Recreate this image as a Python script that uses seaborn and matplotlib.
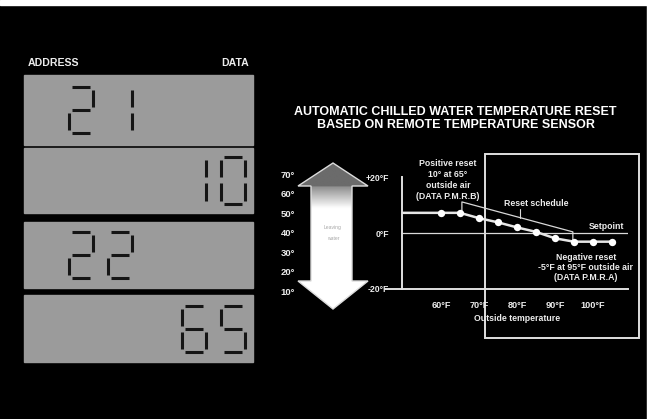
import numpy as np
import pandas as pd
import matplotlib
matplotlib.use("Agg")
import matplotlib.pyplot as plt
import seaborn as sns
from matplotlib.patches import Rectangle, Polygon

# ---- data ----------------------------------------------------------------
panel_kinds = ["address", "data", "address", "data"]
panel_values = ["21", "10", "22", "65"]

outdoor_temp = [50, 60, 65, 70, 75, 80, 85, 90, 95, 100, 105]
reset_offset = [7.2, 7.2, 7.2, 5.3, 3.8, 2.0, 0.4, -1.9, -3.1, -3.1, -3.1]

x_ticks = [60, 70, 80, 90, 100]
x_tick_labels = ["60°F", "70°F", "80°F", "90°F", "100°F"]
y_ticks = [20, 0, -20]
y_tick_labels = ["+20°F", "0°F", "-20°F"]
water_scale = ["70°", "60°", "50°", "40°", "30°", "20°", "10°"]

sns.set_theme(style="dark")
plt.rcParams["font.family"] = ["Liberation Sans", "DejaVu Sans"]

W, H = 653, 419
fig = plt.figure(figsize=(W / 100, H / 100), dpi=100, facecolor="black")

# pixel-space canvas for the panel artwork
bg = fig.add_axes([0, 0, 1, 1])
bg.set_xlim(0, W)
bg.set_ylim(H, 0)
bg.axis("off")
bg.set_facecolor("black")
bg.add_patch(Rectangle((0, 0), W, H, color="black", zorder=0))
# paper margin
bg.add_patch(Rectangle((0, 0), W, 5, color="white", zorder=1))
bg.add_patch(Rectangle((647, 0), 6, H, color="white", zorder=1))

TXT = "#ececec"

# ---- LCD display column ---------------------------------------------------
bg.text(28, 63, "ADDRESS", color=TXT, fontsize=7.6, fontweight="bold", va="center", ha="left")
bg.text(249, 63, "DATA", color=TXT, fontsize=7.6, fontweight="bold", va="center", ha="right")

panels = [(75, 145), (148, 213), (222, 288), (295, 362)]
LCD = "#9b9b9b"

SEGS = {
    "0": "abcdef", "1": "bc", "2": "abged", "3": "abgcd", "4": "fgbc",
    "5": "afgcd", "6": "afgedc", "7": "abc", "8": "abcdefg", "9": "abcdfg",
}


def draw_digit(ch, x0, yc, w=24, h=46):
    top, mid, bot = yc - h / 2, yc, yc + h / 2
    g = 3
    coords = {
        "a": ((x0 + g, top), (x0 + w - g, top)),
        "b": ((x0 + w, top + g), (x0 + w, mid - g)),
        "c": ((x0 + w, mid + g), (x0 + w, bot - g)),
        "d": ((x0 + g, bot), (x0 + w - g, bot)),
        "e": ((x0, mid + g), (x0, bot - g)),
        "f": ((x0, top + g), (x0, mid - g)),
        "g": ((x0 + g, mid), (x0 + w - g, mid)),
    }
    for s in SEGS[ch]:
        (xa, ya), (xb, yb) = coords[s]
        bg.plot([xa, xb], [ya, yb], color="#151515", lw=2.2,
                solid_capstyle="butt", zorder=4)


for (y0, y1), kind, val in zip(panels, panel_kinds, panel_values):
    bg.add_patch(Rectangle((24, y0), 229, y1 - y0, color=LCD, zorder=2))
    yc = (y0 + y1) / 2
    starts = [69, 108] if kind == "address" else [182, 221]
    for ch, xs in zip(val, starts):
        draw_digit(ch, xs, yc)

# ---- title ------------------------------------------------------------------
bg.text(455, 112, "AUTOMATIC CHILLED WATER TEMPERATURE RESET", color="white",
        fontsize=9.0, fontweight="bold", ha="center", va="center")
bg.text(456, 125, "BASED ON REMOTE TEMPERATURE SENSOR", color="white",
        fontsize=9.0, fontweight="bold", ha="center", va="center")

# ---- water temperature arrow ------------------------------------------------
arrow_pts = [(333, 163), (368, 186), (352, 186), (352, 281), (368, 281),
             (333, 309), (298, 281), (311, 281), (311, 186), (298, 186)]
arrow = Polygon(arrow_pts, closed=True, facecolor="none", edgecolor="#dcdcdc",
                lw=1.0, zorder=6)
bg.add_patch(arrow)
rows = np.linspace(163, 309, 200)
shade = np.where(rows < 186, 0.42,
                 np.clip(0.55 + (rows - 186) / 22 * 0.45, 0.55, 1.0))
grad = np.tile(shade[:, None], (1, 10))
im = bg.imshow(grad, extent=(298, 368, 309, 163), origin="upper", cmap="gray",
               vmin=0, vmax=1, aspect="auto", zorder=5, interpolation="bilinear")
im.set_clip_path(arrow)
bg.text(333, 227, "Leaving", color="#a8a8a8", fontsize=3.6, ha="center", va="center", zorder=7)
bg.text(333, 238, "water", color="#a8a8a8", fontsize=3.6, ha="center", va="center", zorder=7)
for lab, yy in zip(water_scale, np.linspace(175, 292, len(water_scale))):
    bg.text(288, yy, lab, color=TXT, fontsize=6.8, fontweight="bold",
            ha="center", va="center")

# ---- setpoint window -------------------------------------------------------
bg.add_patch(Rectangle((485, 154), 154, 184, fill=False, edgecolor="#e0e0e0",
                       lw=1.4, zorder=3))

# ---- reset chart -----------------------------------------------------------
px_left, px_right, px_top, px_bot = 385, 628, 177, 289
ax = fig.add_axes([px_left / W, (H - px_bot) / H,
                   (px_right - px_left) / W, (px_bot - px_top) / H])
ax.set_facecolor("none")
ax.patch.set_alpha(0)
ax.grid(False)
x_per_px = 10 / 38.0
ax.set_xlim(60 - (441 - px_left) * x_per_px, 100 + (px_right - 593) * x_per_px)
ax.set_ylim(-20, 20)
y_axis_x = 60 - (441 - 402) * x_per_px

df = pd.DataFrame({"outdoor": outdoor_temp, "offset": reset_offset})
sns.lineplot(data=df, x="outdoor", y="offset", ax=ax, color="#e6e6e6",
             lw=1.8, zorder=4)
sns.scatterplot(data=df.iloc[1:], x="outdoor", y="offset", ax=ax, color="white",
                s=28, edgecolor="white", linewidth=0, zorder=5)

ax.axhline(0, xmin=(402 - px_left) / (px_right - px_left), xmax=1,
           color="#dadada", lw=0.9, zorder=2)

for side in ["top", "right"]:
    ax.spines[side].set_visible(False)
ax.spines["left"].set_position(("data", y_axis_x))
for side in ["left", "bottom"]:
    ax.spines[side].set_color("#e0e0e0")
    ax.spines[side].set_linewidth(1.4)

ax.set_xticks(x_ticks)
ax.set_xticklabels(x_tick_labels)
ax.set_yticks(y_ticks)
ax.set_yticklabels(y_tick_labels)
ax.tick_params(axis="x", colors="#e0e0e0", direction="out", length=5, width=1,
               labelsize=6.6, pad=4, labelcolor=TXT)
ax.tick_params(axis="y", colors="#e0e0e0", direction="inout", length=7, width=1,
               labelsize=6.2, pad=6, labelcolor=TXT)
for lab in ax.get_xticklabels() + ax.get_yticklabels():
    lab.set_fontweight("bold")
ax.set_xlabel("")
ax.set_ylabel("")
ax.text(80, -30.5, "Outside temperature", color=TXT, fontsize=6.3,
        fontweight="bold", ha="center", va="center", clip_on=False)

# reset schedule bracket
rs_x0, rs_y0, rs_x1, rs_y1 = 65.5, 11.1, 94.7, 0.4
ax.plot([rs_x0, rs_x0, rs_x1, rs_x1], [8.0, rs_y0, rs_y1, -2.6],
        color="#d8d8d8", lw=0.9, zorder=3)
lead_x = 80.8
lead_y = rs_y0 + (lead_x - rs_x0) / (rs_x1 - rs_x0) * (rs_y1 - rs_y0)
ax.plot([lead_x, lead_x], [lead_y, lead_y + 3.0], color="#d8d8d8", lw=0.8)

# annotations (pixel space)
ann = dict(color=TXT, fontsize=6.3, fontweight="bold", ha="center", va="center")
for txt, yy in zip(["Positive reset", "10° at 65°", "outside air", "(DATA P.M.R.B)"],
                   [163, 174, 185, 196]):
    bg.text(448, yy, txt, **ann)
bg.text(536, 203, "Reset schedule", **ann)
bg.text(606, 226, "Setpoint", **ann)
for txt, yy in zip(["Negative reset", "-5°F at 95°F outside air", "(DATA P.M.R.A)"],
                   [257, 267, 277]):
    bg.text(586, yy, txt, **ann)

fig.savefig("out.png", dpi=100, facecolor="black")
